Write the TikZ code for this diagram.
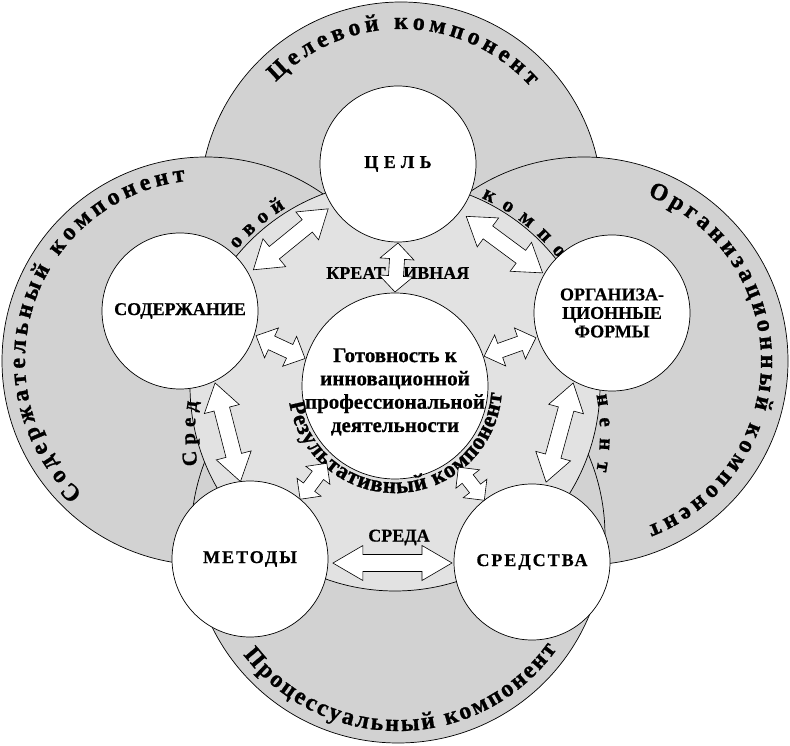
\documentclass[tikz,border=0pt]{standalone}
\usepackage{fontspec}
\setmainfont{Liberation Serif}
\newfontfamily\bsf{Liberation Serif Bold}[FakeBold=0.5]
\newfontfamily\hsf{Liberation Serif Bold}[FakeBold=1]
\newfontfamily\spacedA{Liberation Serif Bold}[LetterSpace=30,FakeBold=0.6]
\newfontfamily\spacedB{Liberation Serif Bold}[LetterSpace=11,FakeBold=0.6]
\usetikzlibrary{calc,decorations.text}
\definecolor{bigg}{RGB}{210,210,210}
\definecolor{lightg}{RGB}{226,226,226}
\newcommand\arcfont{\hsf\fontsize{24}{24}\selectfont}
\newcommand\ringfont{\hsf\fontsize{21}{21}\selectfont}
\newcommand\resfont{\hsf\fontsize{23}{23}\selectfont}
\newcommand\blockarrow[5]{%
  \path let \p1=(#1), \p2=(#2) in \pgfextra{%
    \pgfmathsetmacro\baA{atan2(\y2-\y1,\x2-\x1)}%
    \pgfmathsetmacro\baL{veclen(\x2-\x1,\y2-\y1)}%
    \global\let\baAng\baA
    \global\let\baLen\baL};
  \begin{scope}[shift={(#1)},rotate=\baAng]
    \draw[blockarr] (0,0) -- (#5,#4) -- (#5,#3) -- ({\baLen-#5},#3) -- ({\baLen-#5},#4)
      -- (\baLen,0) -- ({\baLen-#5},-#4) -- ({\baLen-#5},-#3) -- (#5,-#3) -- (#5,-#4) -- cycle;
  \end{scope}}
\begin{document}
\begin{tikzpicture}[x=1pt,y=1pt,
  bigc/.style={circle, draw=black, line width=0.7pt, fill=bigg, inner sep=0pt},
  discst/.style={circle, draw=black, line width=0.7pt, fill=lightg, inner sep=0pt},
  whc/.style={circle, draw=black, line width=0.7pt, fill=white, minimum size=156pt, inner sep=0pt,
    align=center, font=\bsf\fontsize{18}{18.5}\selectfont},
  lbl/.style={inner sep=0pt, font=\bsf\fontsize{18}{18}\selectfont},
  blockarr/.style={draw=black, fill=white, line width=0.6pt, line join=miter},
  arctext/.style={decorate, decoration={text along path, text={|\arcfont|#1}, text align={fit to path}}},
  ringtext/.style={decorate, decoration={text along path, text={|\ringfont|#1}, text align={fit to path}}},
  restext/.style={decorate, decoration={text along path, text={|\resfont|#1}, text align={fit to path}}}
]
\useasboundingbox (0,0) rectangle (790,745);
\fill[white] (0,0) rectangle (790,745);

% big component circles
\node[bigc, minimum size=402pt] (topc) at (401,542) {};
\node[bigc, minimum size=408pt] (leftc) at (206,384) {};
\node[bigc, minimum size=408pt] (rightc) at (584,384) {};
\node[bigc, minimum size=414pt] (botc) at (398,209) {};
% inner environment disc
\node[discst, minimum size=410pt] (disc) at (395,359) {};

% component labels along arcs
{\arcfont
\path[arctext={Целевой компонент}] ($(topc)+(136:174)$) arc[start angle=136, end angle=42, radius=174];
\path[arctext={Содержательный компонент}] ($(leftc)+(227:181)$) arc[start angle=227, end angle=96.5, radius=181];
\path[arctext={Организационный компонент}] ($(rightc)+(69:177)$) arc[start angle=69, end angle=-69, radius=177];
\path[arctext={Процессуальный компонент}] ($(botc)+(217.5:195)$) arc[start angle=217.5, end angle=324.5, radius=195];
}

% "Средовой компонент" pieces
\coordinate (sidec) at (395,312);
{\ringfont
\path[ringtext={Сред}] ($(sidec)+(189.3:200)$) arc[start angle=189.3, end angle=171, radius=200];
\path[ringtext={овой}] ($(disc)+(139.2:209)$) arc[start angle=139.2, end angle=121.6, radius=209];
\path[ringtext={компо}] ($(disc)+(65.3:207)$) arc[start angle=65.3, end angle=38, radius=207];
\path[ringtext={нент}] ($(sidec)+(10.7:205)$) arc[start angle=10.7, end angle=-10.7, radius=205];
}

% white circles
\node[whc] (cel) at (398,581) {{\spacedA ЦЕЛЬ}};
\node[whc] (sod) at (180,434) {СОДЕРЖАНИЕ};
\node[whc] (org) at (612,432) {ОРГАНИЗА-\\ЦИОННЫЕ\\ФОРМЫ};
\node[whc] (met) at (250,186) {{\spacedB МЕТОДЫ}};
\node[whc] (sred) at (532,183) {{\spacedB СРЕДСТВА}};
\node[whc, minimum size=186pt] (ctr) at (395,359) {};
\node[inner sep=0pt, align=center, font=\bsf\fontsize{21}{23.3}\selectfont] (ctrtxt) at (395,353)
  {Готовность к\\инновационной\\профессиональной\\деятельности};

% labels of the creative environment
\node[lbl, anchor=east] (kr1) at (386,472) {КРЕАТ};
\node[lbl, anchor=west] (kr2) at (403,472) {ИВНАЯ};
\node[lbl] (srd) at (399,207.5) {СРЕДА};

% result component text
{\resfont
\path[restext={Результативный компонент}] ($(ctr)+(189:107)$) arc[start angle=189, end angle=356, radius=107];
}

% arrow end points
\coordinate (a1s) at ($(cel)+(212.7:83)$);  \coordinate (a1e) at ($(sod)+(29.3:84)$);
\coordinate (a2s) at ($(cel)+(-37.5:86)$);  \coordinate (a2e) at ($(org)+(150:80)$);
\coordinate (a3s) at ($(cel)+(270:79)$);    \coordinate (a3e) at ($(ctr)+(90:94)$);
\coordinate (a4s) at ($(sod)+(-18:80)$);    \coordinate (a4e) at ($(ctr)+(163:94)$);
\coordinate (a5s) at ($(org)+(198:80)$);    \coordinate (a5e) at ($(ctr)+(18.5:94)$);
\coordinate (a6s) at ($(sod)+(-64:80)$);    \coordinate (a6e) at ($(met)+(97:78)$);
\coordinate (a7s) at ($(org)+(241:80)$);    \coordinate (a7e) at ($(sred)+(80:81)$);
\coordinate (a8s) at ($(met)+(50:78)$);     \coordinate (a8e) at ($(ctr)+(228.6:103)$);
\coordinate (a9s) at ($(sred)+(127.7:78)$); \coordinate (a9e) at ($(ctr)+(-52:103)$);
\coordinate (a10s) at ($(met)+(-2.8:83)$);  \coordinate (a10e) at ($(sred)+(180.7:80)$);

\blockarrow{a1s}{a1e}{8}{18}{27}
\blockarrow{a2s}{a2e}{8}{18}{27}
\blockarrow{a3s}{a3e}{7.5}{17}{16}
\blockarrow{a4s}{a4e}{7.5}{16.5}{17}
\blockarrow{a5s}{a5e}{7.5}{16.5}{17}
\blockarrow{a6s}{a6e}{8}{18}{27}
\blockarrow{a7s}{a7e}{8}{18}{27}
\blockarrow{a8s}{a8e}{7}{15}{15}
\blockarrow{a9s}{a9e}{7}{15}{15}
\blockarrow{a10s}{a10e}{8.5}{17.5}{30}
\end{tikzpicture}
\end{document}
